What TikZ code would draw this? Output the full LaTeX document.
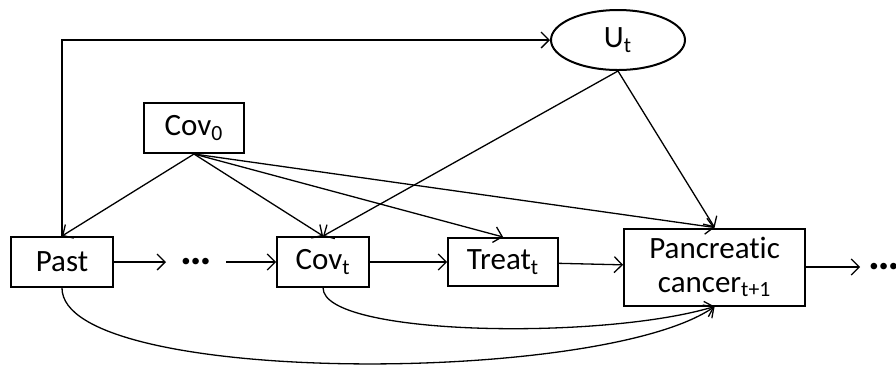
\documentclass[tikz,border=0pt]{standalone}
\usepackage{fontspec}
\setmainfont[Ligatures=NoCommon]{Carlito}
\usetikzlibrary{arrows.meta,positioning,shapes.geometric}

\begin{document}
\begin{tikzpicture}[x=0.5pt,y=-0.5pt,>={Straight Barb[length=4pt,width=8pt]},
    every node/.style={font=\fontsize{15.5}{17}\selectfont},
    box/.style={draw,line width=1pt,inner sep=0pt,minimum height=25pt},
    gap/.style={inner xsep=7pt,inner ysep=0pt,font=\fontsize{22}{22}\selectfont\bfseries},
    link/.style={->,line width=0.65pt}]

                \useasboundingbox (0,0) rectangle (896,366);

                \node[box,minimum width=51pt] (past) at (62,262) {Past};

                \node[gap] (dots1) [right=26pt of past] {…};

                \node[box,minimum width=46pt] (covt) [right=25pt of dots1] {Cov\textsubscript{t}};

                \node[box,minimum width=55pt,minimum height=24pt] (treat) [right=38.5pt of covt] {Treat\textsubscript{t}};

                \node[box,minimum width=90.5pt,minimum height=38.5pt,align=center] (cancer) [right=32pt of treat,yshift=-2.5pt] {Pancreatic\\cancer\textsubscript{t+1}};

                \node[gap,inner xsep=4pt] (dots2) [right=27pt of cancer] {…};

                \node[box,minimum width=50pt] (cov0) at (194,128) {Cov\textsubscript{0}};

                \node[draw,ellipse,line width=1pt,inner sep=0pt,minimum width=67pt,minimum height=30pt] (ut) at (618,40) {U\textsubscript{t}};

                

                \foreach \from/\to in {past/dots1, dots1/covt, covt/treat, treat/cancer, cancer/dots2} {

                    \draw[link] (\from) -- (\to);

                }

                

                \foreach \to in {past, covt, treat, cancer} {

                    \draw[link] (cov0.south) -- (\to.north);

                }

                

                \foreach \to in {covt, cancer} {

                    \draw[link] (ut.south) -- (\to.north);

                }

                

                \draw[link] (past.north) |- (ut);

                \draw[link] (past.south) .. controls +(0,98) and +(-113,79) .. (cancer.south);

                \draw[link] (covt.south) .. controls +(0,48) and +(-113,34) .. (cancer.south);

            \end{tikzpicture}
\end{document}
